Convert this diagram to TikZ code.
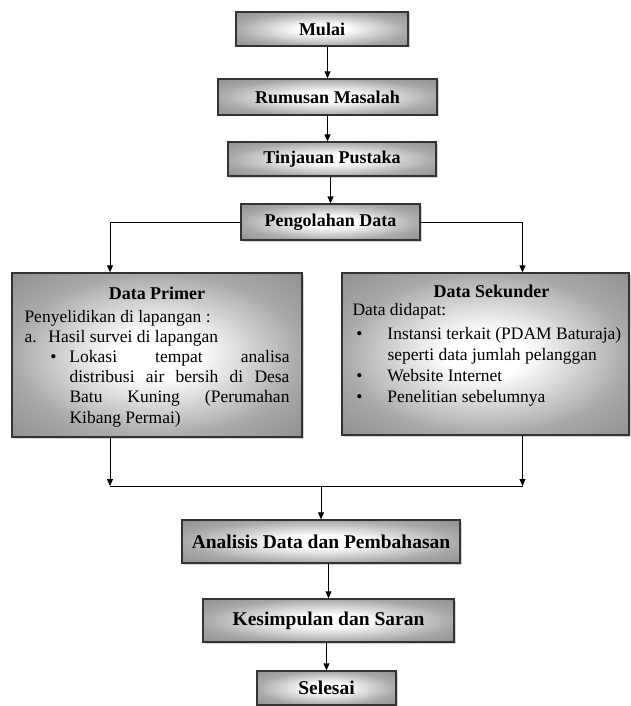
\documentclass[tikz,border=0pt]{standalone}
\usepackage{fontspec}
\setmainfont{Liberation Serif}
\usetikzlibrary{arrows.meta,shadows}
\pgfdeclareradialshading{boxglow}{\pgfpoint{0bp}{0bp}}{color(0bp)=(white); color(7bp)=(white); color(25bp)=(gray!68); color(36bp)=(gray!88); color(50bp)=(gray!88)}
\tikzset{
  flowbox/.style={draw=black!80, line width=1.3pt, shading=boxglow, inner sep=0pt,
    drop shadow={shadow xshift=1.5pt, shadow yshift=-1.5pt, opacity=0.35},
    font=\fontsize{18}{20}\selectfont\bfseries},
  endbox/.style={flowbox, font=\fontsize{19.5}{21}\selectfont\bfseries},
  bigbox/.style={flowbox, font=\fontsize{17.5}{20.2}\selectfont},
  arr/.style={-{Triangle[length=7pt,width=6pt]}, line width=0.9pt},
  link/.style={line width=0.9pt}
}
\begin{document}
\begin{tikzpicture}[x=1pt,y=-1pt]
  \useasboundingbox (0,0) rectangle (631,706);
  % top column
  \node[flowbox, minimum width=172pt, minimum height=34pt] (mulai) at (322,29) {Mulai};
  \node[flowbox, minimum width=219pt, minimum height=36pt] (rumusan) at (327.5,97) {Rumusan Masalah};
  \node[flowbox, minimum width=208pt, minimum height=34pt] (tinjauan) at (332,159) {Tinjauan Pustaka};
  \node[flowbox, minimum width=179pt, minimum height=36pt] (olah) at (330.5,222) {Pengolahan Data};
  % data boxes
  \node[bigbox, minimum width=290pt, minimum height=164pt] (primer) at (157,355) {%
    \parbox[c][164pt][t]{265pt}{\vspace*{14pt}%
      {\centering\bfseries\fontsize{18}{20}\selectfont Data Primer\par}
      \vspace{2.5pt}
      Penyelidikan di lapangan :\par
      \makebox[24pt][l]{a.}Hasil survei di lapangan\par
      {\leftskip=45pt\noindent\llap{\textbullet\hspace{13pt}}Lokasi tempat analisa\linebreak
        distribusi air bersih di Desa\linebreak Batu Kuning (Perumahan\linebreak Kibang Permai)\par}}};
  \node[bigbox, minimum width=287pt, minimum height=162pt] (sekunder) at (485.5,354) {%
    \parbox[c][162pt][t]{280pt}{\vspace*{12pt}%
      {\centering\bfseries\fontsize{18}{20}\selectfont\hspace*{12pt}Data Sekunder\par}
      \vspace{-3pt}\fontsize{17.5}{21}\selectfont
      \hspace*{7pt}Data didapat:\par
      \vspace{3pt}
      {\raggedright\leftskip=42pt
        \noindent\llap{\textbullet\hspace{25pt}}Instansi terkait (PDAM Baturaja)\newline seperti data jumlah pelanggan\par
        \noindent\llap{\textbullet\hspace{25pt}}Website Internet\par
        \noindent\llap{\textbullet\hspace{25pt}}Penelitian sebelumnya\par}}};
  % bottom column
  \node[endbox, minimum width=278pt, minimum height=43pt] (analisis) at (321,541.5) {Analisis Data dan Pembahasan};
  \node[endbox, minimum width=251pt, minimum height=43pt] (simpul) at (328.5,620.5) {Kesimpulan dan Saran};
  \node[endbox, minimum width=139pt, minimum height=34pt] (selesai) at (326.5,688) {Selesai};
  % joins
  \coordinate (joinL) at (110,486);
  \coordinate (joinR) at (522.5,486);
  \coordinate (joinC) at (analisis.north |- joinL);
  % connectors
  \draw[arr] (mulai.south -| rumusan.north) -- (rumusan.north);
  \draw[arr] (rumusan.south) -- (rumusan.south |- tinjauan.north);
  \draw[arr] (tinjauan.south -| olah.north) -- (olah.north);
  \draw[arr] (olah.west) -| (joinL |- primer.north);
  \draw[arr] (olah.east) -| (joinR |- sekunder.north);
  \draw[arr] (joinL |- primer.south) -- (joinL);
  \draw[arr] (joinR |- sekunder.south) -- (joinR);
  \draw[link] (joinL) -- (joinR);
  \draw[arr] (joinC) -- (analisis.north);
  \draw[arr] (analisis.south -| simpul.north) -- (simpul.north);
  \draw[arr] (simpul.south -| selesai.north) -- (selesai.north);
\end{tikzpicture}
\end{document}
